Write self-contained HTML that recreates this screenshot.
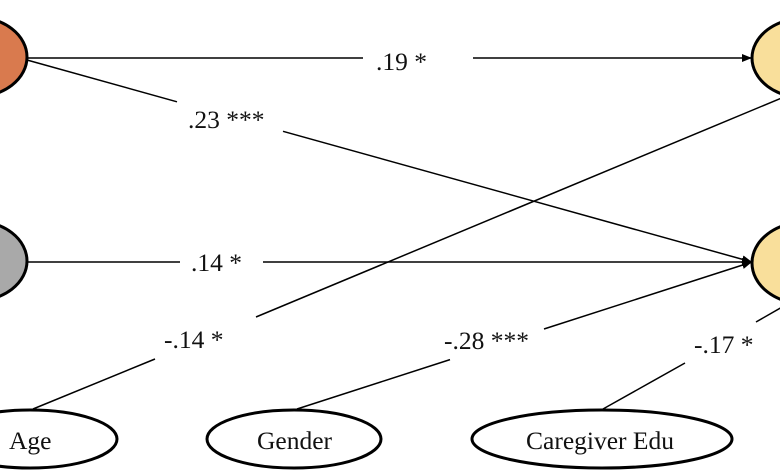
<!DOCTYPE html>
<html>
<head>
<meta charset="utf-8">
<style>
  html, body { margin: 0; padding: 0; background: #ffffff; }
  svg { display: block; }
  text { font-family: "Liberation Serif", "Times New Roman", serif; font-size: 25.5px; fill: #111; }
</style>
</head>
<body>
<svg width="780" height="470" viewBox="0 0 780 470" xmlns="http://www.w3.org/2000/svg">
  <defs>
    <marker id="arr" markerWidth="10" markerHeight="8" refX="10" refY="4" orient="auto" markerUnits="userSpaceOnUse">
      <path d="M0,0 L10,4 L0,8 Z" fill="#000"/>
    </marker>
  </defs>

  <!-- Ellipses (left) -->
  <ellipse cx="-25" cy="57" rx="52" ry="40" fill="#D97A4E" stroke="#000" stroke-width="3"/>
  <ellipse cx="-25" cy="261" rx="52" ry="40" fill="#A9A9A9" stroke="#000" stroke-width="3"/>

  <!-- Ellipses (right) -->
  <ellipse cx="805" cy="58" rx="53" ry="40" fill="#F9DF9B" stroke="#000" stroke-width="3"/>
  <ellipse cx="805" cy="263" rx="53" ry="41" fill="#F9DF9B" stroke="#000" stroke-width="3"/>

  <!-- Bottom ellipses -->
  <ellipse cx="30" cy="439" rx="87" ry="29" fill="#fff" stroke="#000" stroke-width="3"/>
  <ellipse cx="294" cy="439" rx="87" ry="29" fill="#fff" stroke="#000" stroke-width="3"/>
  <ellipse cx="602" cy="439" rx="130" ry="29" fill="#fff" stroke="#000" stroke-width="3"/>

  <g stroke="#000" stroke-width="1.5" fill="none">
    <!-- .19 -->
    <line x1="27" y1="58" x2="363" y2="58"/>
    <line x1="473" y1="58" x2="752" y2="58" marker-end="url(#arr)"/>
    <!-- .23 -->
    <line x1="27" y1="60" x2="177" y2="101.8"/>
    <line x1="283" y1="131.3" x2="752" y2="262" marker-end="url(#arr)"/>
    <!-- .14 -->
    <line x1="27" y1="262" x2="180" y2="262"/>
    <line x1="263" y1="262" x2="752" y2="262" marker-end="url(#arr)"/>
    <!-- -.14 (Age) -->
    <line x1="33" y1="409" x2="155" y2="359"/>
    <line x1="256" y1="317" x2="784" y2="97"/>
    <!-- -.28 (Gender) -->
    <line x1="297" y1="409" x2="450" y2="359.6"/>
    <line x1="544" y1="329" x2="752" y2="262" marker-end="url(#arr)"/>
    <!-- -.17 (Caregiver Edu) -->
    <line x1="603" y1="409" x2="685" y2="363"/>
    <line x1="756" y1="322" x2="784" y2="306"/>
  </g>

  <!-- Path labels -->
  <text x="376" y="70">.19 *</text>
  <text x="188" y="128">.23 ***</text>
  <text x="191" y="271">.14 *</text>
  <text x="164" y="348">-.14 *</text>
  <text x="444" y="349">-.28 ***</text>
  <text x="694" y="353">-.17 *</text>

  <!-- Node labels -->
  <text x="9" y="449">Age</text>
  <text x="257" y="449">Gender</text>
  <text x="526" y="449">Caregiver Edu</text>
</svg>
</body>
</html>
